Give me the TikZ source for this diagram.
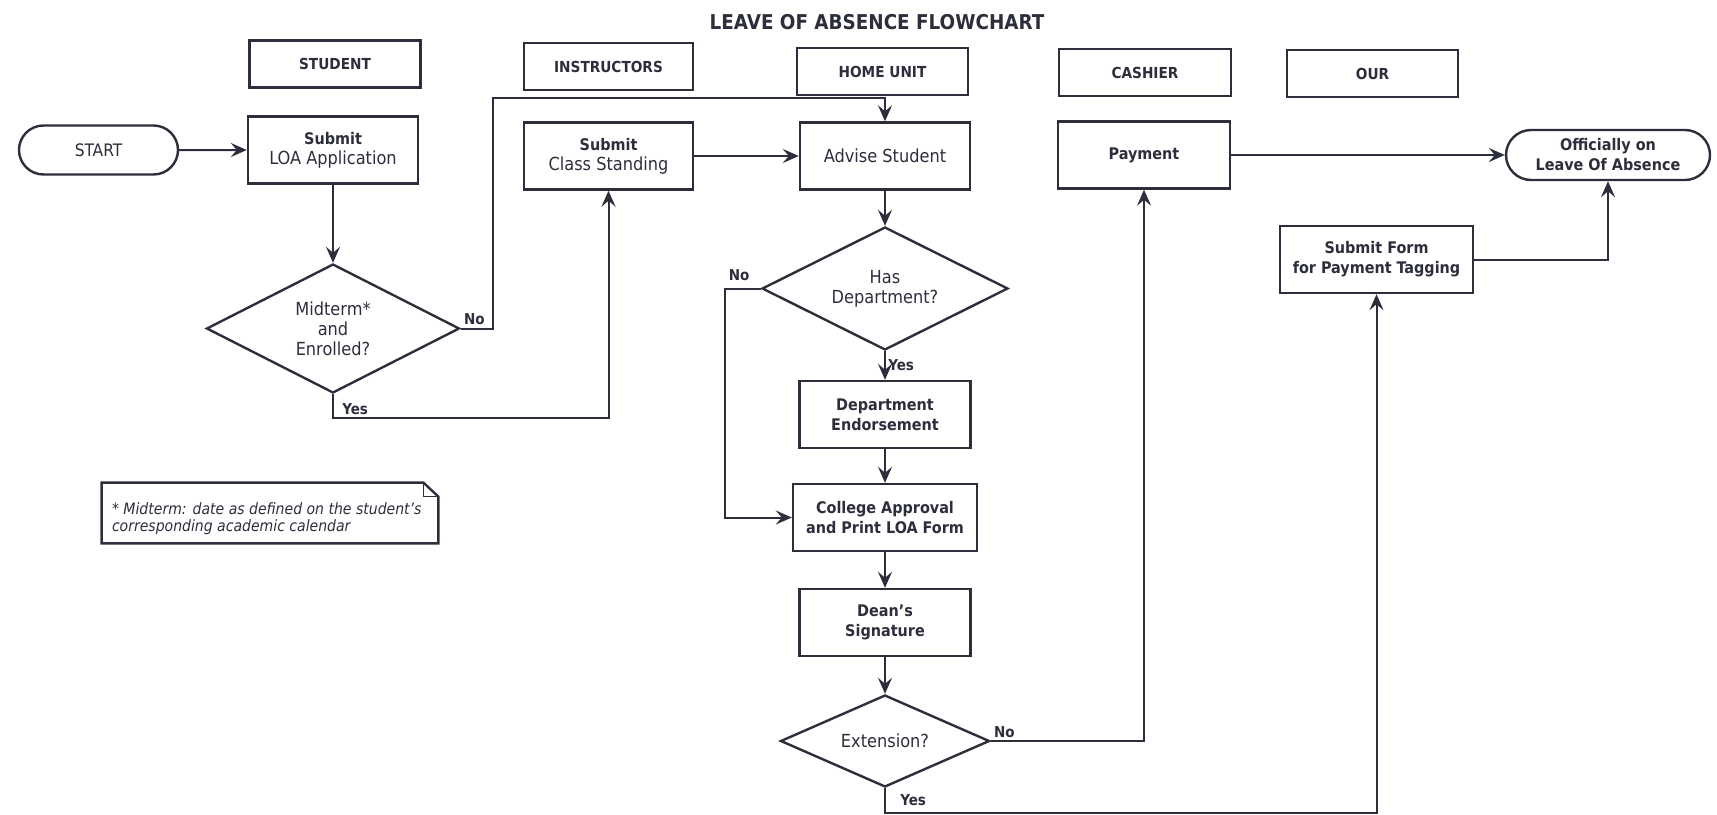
\documentclass[tikz,border=0pt]{standalone}
\usepackage{fontspec}
\setmainfont{DejaVu Sans Condensed}[BoldFont={DejaVu Sans Condensed Bold},ItalicFont={DejaVu Sans Condensed Oblique},BoldItalicFont={DejaVu Sans Condensed Bold Oblique}]
\usetikzlibrary{shapes.geometric,shapes.misc,arrows.meta,calc}
\definecolor{ink}{RGB}{45,46,60}
\newcommand{\bsub}{\fontsize{8}{10}\selectfont\bfseries}

\begin{document}
\begin{tikzpicture}[x=0.5pt,y=-0.5pt,
    every node/.style={text=ink},
    box/.style={draw=ink,line width=1.2pt,align=center,inner sep=2pt,font=\fontsize{9}{10}\selectfont},
    lane/.style={box,font=\fontsize{7.6}{9}\selectfont\bfseries,minimum height=23.5pt},
    task/.style={box,minimum height=33.5pt},
    btask/.style={task,font=\bsub},
    term/.style={box,rounded rectangle,minimum height=24.5pt},
    decide/.style={box,diamond,aspect=2,inner sep=0pt},
    arr/.style={draw=ink,line width=1pt,-{Stealth[length=8pt,width=7pt,inset=3pt]}},
    lbl/.style={font=\fontsize{7.5}{9}\selectfont\bfseries,inner sep=1.2pt}]

    \useasboundingbox (0,0) rectangle (1717,814);

    \node[font=\fontsize{10.2}{12}\selectfont\bfseries] (title) at (877,22) {LEAVE OF ABSENCE FLOWCHART};

    % lane headings
    \node[lane,minimum width=85.5pt] (hstudent) at (335,64) {STUDENT};
    \node[lane,minimum width=84.5pt] (hinstr) at (608.5,66.5) {INSTRUCTORS};
    \node[lane,minimum width=85.5pt] (hhome) at (882.5,71.5) {HOME UNIT};
    \node[lane,minimum width=86pt] (hcash) at (1145,72.5) {CASHIER};
    \node[lane,minimum width=85.5pt] (hour) at (1372.5,73.5) {OUR};

    % steps
    \node[term,minimum width=83.5pt,font=\fontsize{8.6}{10}\selectfont] (start) at (98.5,150) {START};
    \node[task,minimum width=85pt] (loa) at (333,150) {{\bsub Submit}\\LOA Application};
    \node[decide,minimum width=126.5pt,minimum height=64.5pt] (midterm) at (333,328.5) {Midterm*\\and\\Enrolled?};
    \node[task,minimum width=84.5pt] (cls) at (608.5,156) {{\bsub Submit}\\Class Standing};
    \node[task,minimum width=85pt] (advise) at (885,156) {Advise Student};
    \node[decide,minimum width=123pt,minimum height=61.5pt] (hasdept) at (885,288.5) {Has\\Department?};
    \node[btask,minimum width=85.5pt] (endorse) at (885,414.5) {Department\\Endorsement};
    \node[btask,minimum width=92pt] (college) at (885,517.5) {College Approval\\and Print LOA Form};
    \node[btask,minimum width=85.5pt] (dean) at (885,622.5) {Dean's\\Signature};
    \node[decide,minimum width=104.5pt,minimum height=46pt] (ext) at (885,741) {Extension?};
    \node[btask,minimum width=86pt] (payment) at (1144,155) {Payment};
    \node[btask,minimum width=96.5pt] (submitform) at (1376.5,259.5) {Submit Form\\for Payment Tagging};
    \node[term,minimum width=106pt,minimum height=25pt,font=\bsub] (official) at (1608,155) {Officially on\\Leave Of Absence};

    % footnote
    \node[minimum width=168pt,minimum height=30pt,inner sep=0pt] (note) at (270,513) {};
    \draw[draw=ink,line width=1.2pt] (note.south west) -- (note.north west) -- ([xshift=-7.5pt]note.north east)
        -- ([yshift=-7pt]note.north east) -- (note.south east) -- cycle;
    \draw[draw=ink,line width=0.5pt] ([xshift=-7.5pt]note.north east) |- ([yshift=-7pt]note.north east);
    \node[anchor=west,align=left,inner sep=0pt,font=\fontsize{7.8}{8.6}\selectfont\itshape] (notetext) at ($(note.west)+(10,6)$)
        {* Midterm: date as defined on the student's\\corresponding academic calendar};

    % flow
    \draw[arr] (start) -- (loa);
    \draw[arr] (loa) -- (midterm);
    \draw[arr] (midterm.east) node[lbl,anchor=south west] (no1) {No} -- ++(32,0) |- ($(advise.north)+(0,-23)$) -- (advise.north);
    \draw[arr] (midterm.south) -- ++(0,24) node[lbl,anchor=south west,xshift=3pt] (yes1) {Yes} -| (cls.south);
    \draw[arr] (cls) -- (advise);
    \draw[arr] (advise) -- (hasdept);
    \draw[arr] (hasdept.west) node[lbl,anchor=south east,xshift=-4pt,yshift=2pt] (no2) {No} -- ++(-36,0) |- (college.west);
    \draw[arr] (hasdept) -- node[lbl,right] (yes2) {Yes} (endorse);
    \draw[arr] (endorse) -- (college);
    \draw[arr] (college) -- (dean);
    \draw[arr] (dean) -- (ext);
    \draw[arr] (ext.east) node[lbl,anchor=south west] (no3) {No} -| (payment.south);
    \draw[arr] (ext.south) -- ++(0,25) node[lbl,anchor=south west,xshift=6pt,yshift=2pt] (yes3) {Yes} -| (submitform.south);
    \draw[arr] (payment) -- (official);
    \draw[arr] (submitform.east) -| (official.south);
\end{tikzpicture}
\end{document}
